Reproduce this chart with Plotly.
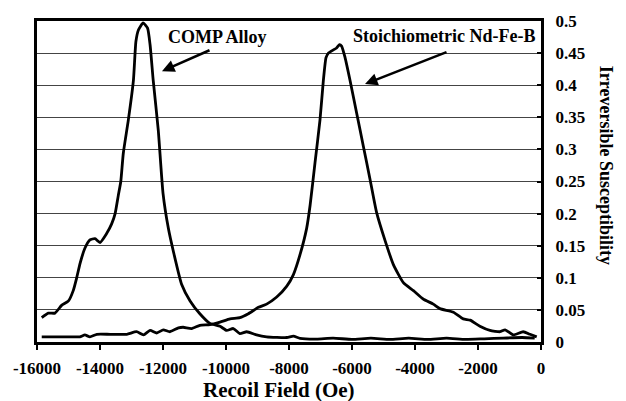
import plotly.graph_objects as go

# Recoil field (Oe) and irreversible susceptibility
comp_x = [-15850, -15640, -15430, -15220, -15000, -14850, -14740, -14630, -14480, -14320,
          -14160, -14000, -13790, -13630, -13520, -13420, -13340, -13260, -13100, -12940,
          -12860, -12780, -12630, -12490, -12410, -12310, -12150, -12000, -11830, -11670,
          -11410, -11140, -10830, -10510, -10190, -9980, -9770, -9560, -9340, -9030,
          -8710, -8070, -7860, -7650, -7120, -6600, -6000, -5400, -4800, -4200,
          -3600, -3000, -2400, -1800, -1200, -600, -200]
comp_y = [0.038, 0.045, 0.045, 0.057, 0.064, 0.080, 0.100, 0.123, 0.146, 0.159,
          0.161, 0.155, 0.169, 0.184, 0.200, 0.228, 0.250, 0.294, 0.346, 0.407,
          0.468, 0.486, 0.497, 0.489, 0.463, 0.407, 0.330, 0.232, 0.177, 0.141,
          0.090, 0.064, 0.044, 0.029, 0.0245, 0.018, 0.021, 0.013, 0.016, 0.011,
          0.008, 0.007, 0.009, 0.0057, 0.0046, 0.006, 0.004, 0.006, 0.004, 0.006,
          0.004, 0.006, 0.004, 0.005, 0.006, 0.007, 0.006]

stoich_x = [-15850, -15000, -14640, -14480, -14320, -14100, -13680, -13150, -12840, -12620,
            -12410, -12200, -11990, -11780, -11510, -11360, -11090, -10830, -10510, -10190,
            -9870, -9560, -9290, -8970, -8710, -8390, -8070, -7860, -7650, -7440,
            -7330, -7175, -7016, -6910, -6825, -6750, -6590, -6490, -6400, -6330,
            -6220, -6060, -5850, -5640, -5430, -5220, -4950, -4690, -4370, -4050,
            -3740, -3420, -3210, -2780, -2470, -2250, -1940, -1620, -1300, -1140,
            -880, -565, -350, -136]
stoich_y = [0.008, 0.008, 0.008, 0.011, 0.008, 0.012, 0.012, 0.012, 0.016, 0.011,
            0.018, 0.014, 0.019, 0.016, 0.022, 0.023, 0.021, 0.026, 0.027, 0.031,
            0.036, 0.038, 0.044, 0.054, 0.059, 0.070, 0.087, 0.105, 0.136, 0.177,
            0.213, 0.279, 0.346, 0.407, 0.443, 0.450, 0.455, 0.458, 0.463, 0.461,
            0.443, 0.407, 0.356, 0.305, 0.254, 0.202, 0.158, 0.121, 0.0925, 0.080,
            0.067, 0.059, 0.052, 0.0465, 0.036, 0.034, 0.0245, 0.018, 0.016, 0.019,
            0.011, 0.016, 0.012, 0.008]

x_ticks = [-16000, -14000, -12000, -10000, -8000, -6000, -4000, -2000, 0]
x_tick_labels = ["-16000", "-14000", "-12000", "-10000", "-8000", "-6000", "-4000", "-2000", "0"]
y_ticks = [0, 0.05, 0.1, 0.15, 0.2, 0.25, 0.3, 0.35, 0.4, 0.45, 0.5]
y_tick_labels = ["0", "0.05", "0.1", "0.15", "0.2", "0.25", "0.3", "0.35", "0.4", "0.45", "0.5"]

FONT = "Liberation Serif, Times New Roman, serif"

fig = go.Figure()
fig.add_trace(go.Scatter(x=comp_x, y=comp_y, mode="lines", name="COMP Alloy",
                         line=dict(color="black", width=2.8, shape="spline", smoothing=0.5)))
fig.add_trace(go.Scatter(x=stoich_x, y=stoich_y, mode="lines", name="Stoichiometric Nd-Fe-B",
                         line=dict(color="black", width=2.8, shape="spline", smoothing=0.5)))

fig.update_layout(
    width=626, height=401,
    margin=dict(l=37, r=85, t=16, b=59),
    paper_bgcolor="white", plot_bgcolor="white",
    showlegend=False,
    font=dict(family=FONT, color="black"),
    xaxis=dict(range=[-16000, 0], tickvals=x_ticks, ticktext=x_tick_labels,
               showgrid=False, zeroline=False, showline=True, linecolor="black",
               linewidth=3, mirror=True, ticks="outside", ticklen=5, tickwidth=2,
               tickcolor="black", ticklabelstandoff=4,
               tickfont=dict(family=FONT, size=17, color="black", weight="bold")),
    yaxis=dict(range=[0, 0.5], side="right", tickvals=y_ticks, ticktext=y_tick_labels,
               showgrid=True, gridcolor="#444444", gridwidth=1, zeroline=False,
               showline=True, linecolor="black", linewidth=3, mirror=True,
               ticks="inside", ticklen=4, tickwidth=2, tickcolor="black",
               ticklabelstandoff=8,
               tickfont=dict(family=FONT, size=17, color="black", weight="bold")),
)

annos = [
    dict(text="<b>COMP Alloy</b>", x=-10270, y=0.475, xref="x", yref="y",
         xanchor="center", yanchor="middle",
         showarrow=False, font=dict(family=FONT, size=18, color="black")),
    dict(text="<b>Stoichiometric Nd-Fe-B</b>", x=-3079, y=0.476, xref="x", yref="y",
         xanchor="center", yanchor="middle",
         showarrow=False, font=dict(family=FONT, size=18, color="black")),
    dict(text="", x=-12032, y=0.4218, ax=-10476, ay=0.4555, xref="x", yref="y",
         axref="x", ayref="y", showarrow=True, arrowhead=2, arrowsize=1,
         arrowwidth=2.5, arrowcolor="black", standoff=0),
    dict(text="", x=-5587, y=0.4018, ax=-2952, ay=0.4525, xref="x", yref="y",
         axref="x", ayref="y", showarrow=True, arrowhead=2, arrowsize=1,
         arrowwidth=2.5, arrowcolor="black", standoff=0),
    dict(text="<b>Recoil Field (Oe)</b>", x=0.481, y=-0.150, xref="paper", yref="paper",
         xanchor="center", yanchor="middle",
         showarrow=False, font=dict(family=FONT, size=21, color="black")),
    dict(text="<b>Irreversible Susceptibility</b>", x=1.129, y=0.552, xref="paper",
         yref="paper", xanchor="center", yanchor="middle", showarrow=False, textangle=90,
         font=dict(family=FONT, size=18, color="black")),
]
fig.update_layout(annotations=annos)

fig.write_html("out.html")
